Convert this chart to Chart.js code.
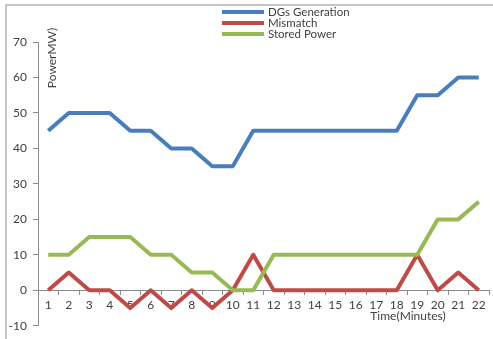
<!DOCTYPE html>
<html>
<head>
<meta charset="utf-8">
<script src="https://cdn.jsdelivr.net/npm/chart.js@4"></script>
<style>
  html, body { margin: 0; padding: 0; background: #fff; }
  #wrap { width: 493px; height: 339px; position: relative; }
</style>
</head>
<body>
<div id="wrap"><canvas id="powerChart"></canvas></div>
<script>
const minutes = ["1","2","3","4","5","6","7","8","9","10","11","12","13","14","15","16","17","18","19","20","21","22"];
const dgGeneration = [45,50,50,50,45,45,40,40,35,35,45,45,45,45,45,45,45,45,55,55,60,60];
const mismatch = [0,5,0,0,-5,0,-5,0,-5,0,10,0,0,0,0,0,0,0,10,0,5,0];
const storedPower = [10,10,15,15,15,10,10,5,5,0,0,10,10,10,10,10,10,10,10,20,20,25];
const seriesNames = ["DGs Generation", "Mismatch", "Stored Power"];
const seriesColors = ["#4a7ebb", "#be4b48", "#98b954"];

const FONT = "Lato, 'Open Sans', sans-serif";
const TEXT = "#404040";
const AXIS = "#8c8c8c";

// frame, axis titles and the stacked legend
const decorations = {
  id: "decorations",
  beforeDraw(chart) {
    const ctx = chart.ctx;
    ctx.save();
    ctx.fillStyle = "#fff";
    ctx.fillRect(0, 0, chart.width, chart.height);
    ctx.strokeStyle = "#b4b4b4";
    ctx.lineWidth = 1.5;
    ctx.beginPath();
    ctx.moveTo(6, chart.height);
    ctx.lineTo(6, 5);
    ctx.lineTo(chart.width, 5);
    ctx.stroke();
    ctx.restore();
  },
  afterDraw(chart) {
    const ctx = chart.ctx;
    ctx.save();
    ctx.fillStyle = TEXT;
    ctx.font = "11.5px " + FONT;
    ctx.textBaseline = "middle";

    // legend
    seriesNames.forEach((name, i) => {
      const y = 12 + i * 11;
      ctx.strokeStyle = seriesColors[i];
      ctx.lineWidth = 4;
      ctx.beginPath();
      ctx.moveTo(222, y);
      ctx.lineTo(264, y);
      ctx.stroke();
      ctx.textAlign = "left";
      ctx.fillText(name, 268, y);
    });

    // y title
    ctx.save();
    ctx.translate(52, 58);
    ctx.rotate(-Math.PI / 2);
    ctx.textAlign = "center";
    ctx.font = "12px " + FONT;
    ctx.fillText("PowerMW)", 0, 0);
    ctx.restore();

    // x title
    ctx.textAlign = "center";
    ctx.font = "12px " + FONT;
    ctx.fillText("Time(Minutes)", 408, 316);
    ctx.restore();
  }
};

const datasets = [dgGeneration, mismatch, storedPower].map((values, i) => ({
  label: seriesNames[i],
  data: values,
  borderColor: seriesColors[i],
  backgroundColor: seriesColors[i],
  borderWidth: 4,
  borderJoinStyle: "round",
  pointRadius: 0,
  tension: 0,
  order: 3 - i,
}));

new Chart(document.getElementById("powerChart"), {
  type: "line",
  data: { labels: minutes, datasets: datasets },
  options: {
    responsive: true,
    maintainAspectRatio: false,
    animation: false,
    layout: { padding: { top: 42, right: 4, left: 0, bottom: 0 } },
    plugins: {
      legend: { display: false },
      tooltip: { enabled: false },
    },
    scales: {
      x: {
        position: { y: 0 },
        offset: true,
        afterFit: (s) => { s.height = 19; },
        grid: {
          offset: true,
          drawOnChartArea: false,
          tickLength: 4,
          color: AXIS,
        },
        border: { color: AXIS, width: 1 },
        ticks: {
          color: TEXT,
          font: { family: FONT, size: 12 },
          padding: 4,
          maxRotation: 0,
          autoSkip: false,
        },
      },
      y: {
        min: -10,
        max: 70,
        afterFit: (s) => { s.width = 38; },
        grid: {
          drawOnChartArea: false,
          tickLength: 5,
          color: AXIS,
        },
        border: { color: AXIS, width: 1 },
        ticks: {
          stepSize: 10,
          color: TEXT,
          font: { family: FONT, size: 12 },
          padding: 6,
        },
      },
    },
  },
  plugins: [decorations],
});
</script>
</body>
</html>
